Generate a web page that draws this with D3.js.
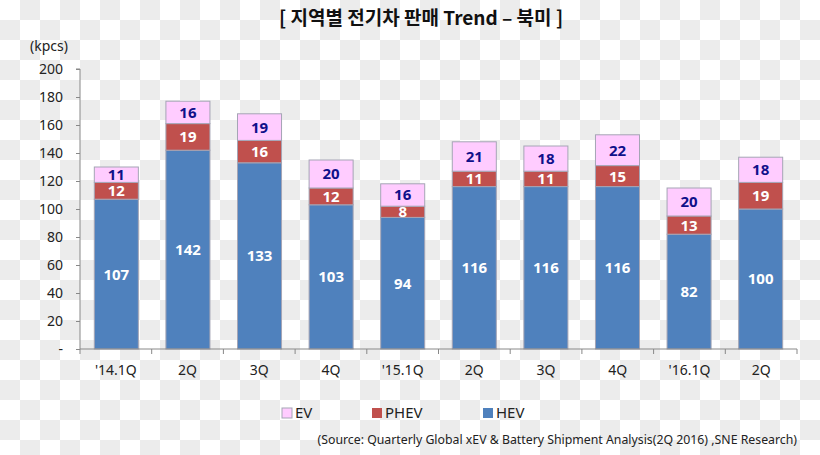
<!DOCTYPE html>
<html><head><meta charset="utf-8">
<script src="https://cdn.jsdelivr.net/npm/d3@7"></script>
<style>
html,body{margin:0;padding:0;}
body{width:820px;height:455px;overflow:hidden;
background-color:#ffffff;
background-image:linear-gradient(45deg,#ececec 25%,transparent 25%,transparent 75%,#ececec 75%),linear-gradient(45deg,#ececec 25%,transparent 25%,transparent 75%,#ececec 75%);
background-size:40px 40px;background-position:0 0,20px 20px;}
text{font-family:"Noto Sans","Open Sans",sans-serif;}
</style></head>
<body>
<svg id="chart" width="820" height="455"></svg>
<script>
const categories = ["'14.1Q","2Q","3Q","4Q","'15.1Q","2Q","3Q","4Q","'16.1Q","2Q"];
const hev  = [107,142,133,103,94,116,116,116,82,100];
const phev = [12,19,16,12,8,11,11,15,13,19];
const ev   = [11,16,19,20,16,21,18,22,20,18];
const seriesNames = ["HEV","PHEV","EV"];
const yTicks = [0,20,40,60,80,100,120,140,160,180,200];
const titleText = "[ 지역별 전기차 판매 Trend – 북미 ]";
const unitText = "(kpcs)";
const sourceText = "(Source: Quarterly Global xEV & Battery Shipment Analysis(2Q 2016) ,SNE Research)";

const colors = {HEV:"#4f81bd", PHEV:"#c0504d", EV:"#ffccff"};
const labelColors = {HEV:"#ffffff", PHEV:"#ffffff", EV:"#10108a"};

const svg = d3.select("#chart");
const m = {left:80, right:23, top:69, bottom:106};
const W = 820, H = 455;
const x = d3.scaleBand().domain(d3.range(categories.length)).range([m.left, W-m.right]).paddingInner(0.385).paddingOuter(0.2);
const y = d3.scaleLinear().domain([0,200]).range([H-m.bottom, m.top]);

const rows = categories.map((c,i)=>({i, HEV:hev[i], PHEV:phev[i], EV:ev[i]}));
const stack = d3.stack().keys(seriesNames)(rows);

const g = svg.append("g");
stack.forEach(layer=>{
  const key = layer.key;
  g.selectAll(null).data(layer).enter().append("rect")
    .attr("x", d=>x(d.data.i))
    .attr("width", x.bandwidth())
    .attr("y", d=>y(d[1]))
    .attr("height", d=>y(d[0])-y(d[1]))
    .attr("fill", colors[key])
    .attr("stroke", "#a5a5b5").attr("stroke-width", 1);
  g.selectAll(null).data(layer).enter().append("text")
    .attr("x", d=>x(d.data.i)+x.bandwidth()/2)
    .attr("y", d=>(y(d[0])+y(d[1]))/2)
    .attr("dy","0.36em")
    .attr("text-anchor","middle")
    .attr("font-size", 15).attr("font-weight","bold")
    .attr("fill", labelColors[key])
    .text(d=>d.data[key]);
});

// Y axis
const yAxis = d3.axisLeft(y).tickValues(yTicks).tickSize(4).tickFormat(d=>d===0?"-":d);
const ya = svg.append("g").attr("transform",`translate(${m.left},0)`).call(yAxis);
ya.select(".domain").attr("stroke","#888").attr("d",`M-4,${y(200)}H0V${y(0)}`);
ya.selectAll(".tick line").attr("stroke","#888");
ya.selectAll(".tick text").attr("font-size",14).attr("fill","#222").attr("x",-17)
  .style("font-family","'Noto Sans',sans-serif");

// X axis
const xa = svg.append("g").attr("transform",`translate(0,${y(0)})`);
const bandW = (W-m.right-m.left)/categories.length;
xa.append("line").attr("x1",m.left).attr("x2",W-m.right).attr("y1",0).attr("y2",0).attr("stroke","#888");
xa.selectAll(null).data(d3.range(categories.length+1)).enter().append("line")
  .attr("x1",k=>m.left+k*bandW).attr("x2",k=>m.left+k*bandW).attr("y1",0).attr("y2",5).attr("stroke","#888");
xa.selectAll(null).data(categories).enter().append("text")
  .attr("x",(d,i)=>m.left+(i+0.5)*bandW)
  .attr("y",26).attr("text-anchor","middle").attr("font-size",14).attr("fill","#222")
  .text(d=>d);

// Title & unit
svg.append("text").attr("x",421).attr("y",25).attr("text-anchor","middle")
  .attr("font-size",19).attr("font-weight","bold").attr("fill","#111")
  .style("font-family","'Noto Sans CJK KR',sans-serif").text(titleText);
svg.append("text").attr("x",49).attr("y",51).attr("text-anchor","middle")
  .attr("font-size",14).attr("fill","#222").text(unitText);

// Legend
const legendItems = [{k:"EV",x:282},{k:"PHEV",x:372},{k:"HEV",x:483}];
const lg = svg.append("g");
legendItems.forEach(it=>{
  lg.append("rect").attr("x",it.x).attr("y",408).attr("width",10).attr("height",10)
    .attr("fill",colors[it.k]).attr("stroke",it.k==="EV"?"#a5a5b5":"none");
  lg.append("text").attr("x",it.x+13).attr("y",418).attr("font-size",15).attr("fill","#222").text(it.k);
});

// Source
svg.append("text").attr("x",797).attr("y",444).attr("text-anchor","end")
  .attr("font-size",12.3).attr("fill","#222").text(sourceText);
</script>
</body></html>
